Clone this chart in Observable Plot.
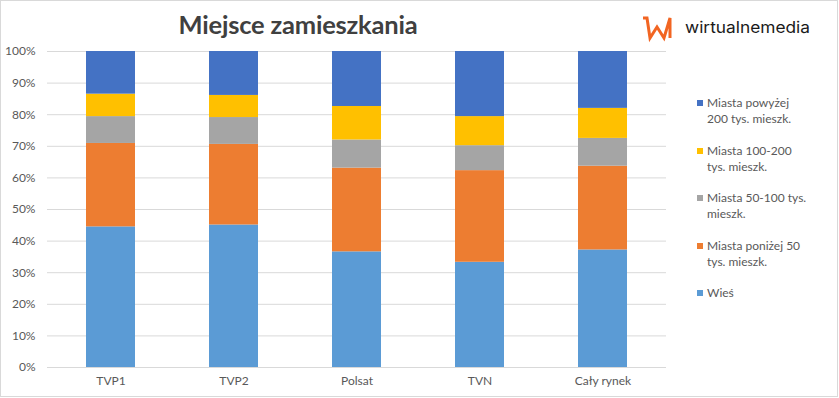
<!DOCTYPE html>
<html>
<head>
<meta charset="utf-8">
<script src="https://cdn.jsdelivr.net/npm/d3@7"></script>
<script src="https://cdn.jsdelivr.net/npm/@observablehq/plot@0.6"></script>
<style>
  html, body { margin: 0; padding: 0; background: #fff; }
  #wrap { position: relative; width: 839px; height: 398px; overflow: hidden; background: #fff; font-family: Lato, "Open Sans", sans-serif; }
  #frame { position: absolute; left: 0; top: 0; width: 838px; height: 397px; box-sizing: border-box; border: 1px solid #d9d9d9; pointer-events: none; }
  #title { position: absolute; left: 0; width: 596px; top: 6px; text-align: center; font-family: Lato, sans-serif; font-weight: bold; font-size: 25.5px; color: #404040; line-height: 36px; letter-spacing: -0.2px; }
  #chart { position: absolute; left: 0; top: 0; }
  #legend { position: absolute; left: 697px; top: 95px; font-family: Lato, sans-serif; font-size: 12px; color: #595959; }
  .item { position: absolute; left: 0; white-space: pre; line-height: 16px; }
  .sw { position: absolute; left: 0; top: 5px; width: 6px; height: 6px; }
  .lbl { position: absolute; left: 10px; top: 0; }
  #logo { position: absolute; left: 640px; top: 12px; }
</style>
</head>
<body>
<div id="wrap">
  <div id="chart"></div>
  <div id="title"></div>
  <div id="legend"></div>
  <svg id="logo" width="180" height="32" viewBox="0 0 180 32">
    <path d="M3,6 L7,6 L10,26 L17,15 L24,26 L30,6 L30,26" fill="none" stroke="#f26522" stroke-width="3" stroke-linejoin="miter"/>
    <text x="45" y="21" font-family="Inter, 'DejaVu Sans', sans-serif" font-size="16" font-weight="400" fill="#1a1a1a" textLength="125" lengthAdjust="spacingAndGlyphs">wirtualnemedia</text>
  </svg>
  <div id="frame"></div>
</div>
<script>
const titleText = "Miejsce zamieszkania";
const categories = ["TVP1", "TVP2", "Polsat", "TVN", "Cały rynek"];
const series = [
  "Wieś",
  "Miasta poniżej 50 tys. mieszk.",
  "Miasta 50-100 tys. mieszk.",
  "Miasta 100-200 tys. mieszk.",
  "Miasta powyżej 200 tys. mieszk."
];
const legendLabels = [
  "Wieś",
  "Miasta poniżej 50\ntys. mieszk.",
  "Miasta 50-100 tys.\nmieszk.",
  "Miasta 100-200\ntys. mieszk.",
  "Miasta powyżej\n200 tys. mieszk."
];
const colors = ["#5b9bd5", "#ed7d31", "#a5a5a5", "#ffc000", "#4472c4"];
// percent values per category
const wies       = [44.5, 45.1, 36.6, 33.3, 37.2];
const ponizej50  = [26.4, 25.5, 26.5, 29.0, 26.5];
const m50_100    = [8.5, 8.5, 8.9, 7.9, 8.8];
const m100_200   = [7.1, 7.0, 10.6, 9.2, 9.5];
const powyzej200 = [13.5, 13.9, 17.4, 20.6, 18.0];
const yTicks = [0, 0.1, 0.2, 0.3, 0.4, 0.5, 0.6, 0.7, 0.8, 0.9, 1.0];

const seriesValues = [wies, ponizej50, m50_100, m100_200, powyzej200];
const rows = [];
series.forEach((s, si) => {
  categories.forEach((c, ci) => {
    rows.push({cat: c, series: s, value: seriesValues[si][ci] / 100});
  });
});

document.getElementById("title").textContent = titleText;

const chart = Plot.plot({
  width: 839,
  height: 398,
  marginLeft: 47,
  marginRight: 173,
  marginTop: 51,
  marginBottom: 31,
  style: {fontFamily: "Lato, sans-serif", fontSize: "12px", color: "#595959", background: "transparent"},
  x: {domain: categories, paddingInner: 0.6, paddingOuter: 0.3, label: null, tickSize: 0, tickPadding: 9},
  y: {domain: [0, 1], ticks: yTicks, tickFormat: d3.format(".0%"), label: null, tickSize: 0, tickPadding: 12},
  color: {domain: series, range: colors},
  marks: [
    Plot.gridY(yTicks, {stroke: "#d9d9d9", strokeOpacity: 1}),
    Plot.barY(rows, {x: "cat", y: "value", fill: "series", order: series}),
    Plot.ruleY([0], {stroke: "#d9d9d9"})
  ]
});
document.getElementById("chart").appendChild(chart);

const legend = document.getElementById("legend");
const order = [4, 3, 2, 1, 0];
order.forEach((si, i) => {
  const item = document.createElement("div");
  item.className = "item";
  item.style.top = (i * 47.5) + "px";
  const sw = document.createElement("div");
  sw.className = "sw";
  sw.style.background = colors[si];
  const lbl = document.createElement("div");
  lbl.className = "lbl";
  lbl.textContent = legendLabels[si];
  item.appendChild(sw);
  item.appendChild(lbl);
  legend.appendChild(item);
});
</script>
</body>
</html>
